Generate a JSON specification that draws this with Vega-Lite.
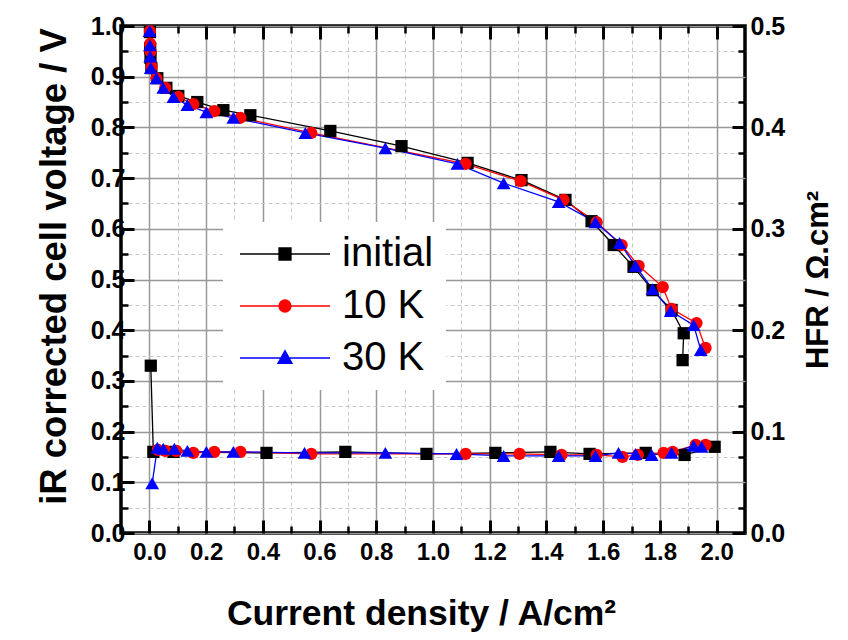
{
  "$schema": "https://vega.github.io/schema/vega-lite/v6.json",
  "width": 624,
  "height": 507,
  "autosize": {"type": "none"},
  "padding": {"left": 121, "top": 26, "right": 103, "bottom": 107},
  "background": "white",
  "config": {
    "view": {"stroke": "black", "strokeWidth": 3.5},
    "font": "Liberation Sans",
    "axis": {
      "labelFont": "Liberation Sans",
      "labelFontWeight": "bold",
      "labelColor": "black",
      "titleFont": "Liberation Sans",
      "titleFontWeight": "bold",
      "titleColor": "black",
      "tickColor": "black",
      "tickWidth": 2.5,
      "domain": false
    }
  },
  "datasets": {
    "volt": [
      {"s": "initial", "i": 1, "j": 0.002, "v": 0.988},
      {"s": "initial", "i": 2, "j": 0.003, "v": 0.956},
      {"s": "initial", "i": 3, "j": 0.004, "v": 0.937},
      {"s": "initial", "i": 4, "j": 0.007, "v": 0.917},
      {"s": "initial", "i": 5, "j": 0.028, "v": 0.897},
      {"s": "initial", "i": 6, "j": 0.060, "v": 0.878},
      {"s": "initial", "i": 7, "j": 0.102, "v": 0.862},
      {"s": "initial", "i": 8, "j": 0.169, "v": 0.850},
      {"s": "initial", "i": 9, "j": 0.261, "v": 0.834},
      {"s": "initial", "i": 10, "j": 0.356, "v": 0.824},
      {"s": "initial", "i": 11, "j": 0.638, "v": 0.793},
      {"s": "initial", "i": 12, "j": 0.889, "v": 0.763},
      {"s": "initial", "i": 13, "j": 1.122, "v": 0.730},
      {"s": "initial", "i": 14, "j": 1.312, "v": 0.696},
      {"s": "initial", "i": 15, "j": 1.467, "v": 0.657},
      {"s": "initial", "i": 16, "j": 1.559, "v": 0.615},
      {"s": "initial", "i": 17, "j": 1.637, "v": 0.568},
      {"s": "initial", "i": 18, "j": 1.707, "v": 0.525},
      {"s": "initial", "i": 19, "j": 1.774, "v": 0.479},
      {"s": "initial", "i": 20, "j": 1.841, "v": 0.440},
      {"s": "initial", "i": 21, "j": 1.884, "v": 0.394},
      {"s": "initial", "i": 22, "j": 1.880, "v": 0.341},
      {"s": "10 K", "i": 1, "j": 0.002, "v": 0.990},
      {"s": "10 K", "i": 2, "j": 0.003, "v": 0.965},
      {"s": "10 K", "i": 3, "j": 0.004, "v": 0.950},
      {"s": "10 K", "i": 4, "j": 0.008, "v": 0.920},
      {"s": "10 K", "i": 5, "j": 0.025, "v": 0.897},
      {"s": "10 K", "i": 6, "j": 0.056, "v": 0.878},
      {"s": "10 K", "i": 7, "j": 0.102, "v": 0.860},
      {"s": "10 K", "i": 8, "j": 0.155, "v": 0.846},
      {"s": "10 K", "i": 9, "j": 0.229, "v": 0.832},
      {"s": "10 K", "i": 10, "j": 0.321, "v": 0.819},
      {"s": "10 K", "i": 11, "j": 0.571, "v": 0.789},
      {"s": "10 K", "i": 12, "j": 1.115, "v": 0.728},
      {"s": "10 K", "i": 13, "j": 1.309, "v": 0.694},
      {"s": "10 K", "i": 14, "j": 1.460, "v": 0.657},
      {"s": "10 K", "i": 15, "j": 1.577, "v": 0.613},
      {"s": "10 K", "i": 16, "j": 1.665, "v": 0.568},
      {"s": "10 K", "i": 17, "j": 1.725, "v": 0.527},
      {"s": "10 K", "i": 18, "j": 1.810, "v": 0.485},
      {"s": "10 K", "i": 19, "j": 1.841, "v": 0.442},
      {"s": "10 K", "i": 20, "j": 1.929, "v": 0.414},
      {"s": "10 K", "i": 21, "j": 1.961, "v": 0.365},
      {"s": "30 K", "i": 1, "j": 0.001, "v": 0.990},
      {"s": "30 K", "i": 2, "j": 0.002, "v": 0.962},
      {"s": "30 K", "i": 3, "j": 0.003, "v": 0.940},
      {"s": "30 K", "i": 4, "j": 0.005, "v": 0.917},
      {"s": "30 K", "i": 5, "j": 0.025, "v": 0.897},
      {"s": "30 K", "i": 6, "j": 0.049, "v": 0.878},
      {"s": "30 K", "i": 7, "j": 0.085, "v": 0.860},
      {"s": "30 K", "i": 8, "j": 0.134, "v": 0.844},
      {"s": "30 K", "i": 9, "j": 0.201, "v": 0.830},
      {"s": "30 K", "i": 10, "j": 0.296, "v": 0.819},
      {"s": "30 K", "i": 11, "j": 0.550, "v": 0.789},
      {"s": "30 K", "i": 12, "j": 0.832, "v": 0.759},
      {"s": "30 K", "i": 13, "j": 1.086, "v": 0.728},
      {"s": "30 K", "i": 14, "j": 1.249, "v": 0.690},
      {"s": "30 K", "i": 15, "j": 1.443, "v": 0.653},
      {"s": "30 K", "i": 16, "j": 1.573, "v": 0.613},
      {"s": "30 K", "i": 17, "j": 1.658, "v": 0.572},
      {"s": "30 K", "i": 18, "j": 1.714, "v": 0.527},
      {"s": "30 K", "i": 19, "j": 1.774, "v": 0.481},
      {"s": "30 K", "i": 20, "j": 1.838, "v": 0.438},
      {"s": "30 K", "i": 21, "j": 1.919, "v": 0.410},
      {"s": "30 K", "i": 22, "j": 1.944, "v": 0.361}
    ],
    "hfr": [
      {"s": "initial", "i": 1, "j": 0.005, "h": 0.165},
      {"s": "initial", "i": 2, "j": 0.014, "h": 0.080},
      {"s": "initial", "i": 3, "j": 0.085, "h": 0.080},
      {"s": "initial", "i": 4, "j": 0.413, "h": 0.079},
      {"s": "initial", "i": 5, "j": 0.691, "h": 0.080},
      {"s": "initial", "i": 6, "j": 0.977, "h": 0.078},
      {"s": "initial", "i": 7, "j": 1.220, "h": 0.079},
      {"s": "initial", "i": 8, "j": 1.414, "h": 0.080},
      {"s": "initial", "i": 9, "j": 1.552, "h": 0.078},
      {"s": "initial", "i": 10, "j": 1.750, "h": 0.079},
      {"s": "initial", "i": 11, "j": 1.887, "h": 0.077},
      {"s": "initial", "i": 12, "j": 1.993, "h": 0.085},
      {"s": "10 K", "i": 1, "j": 0.030, "h": 0.082},
      {"s": "10 K", "i": 2, "j": 0.056, "h": 0.081},
      {"s": "10 K", "i": 3, "j": 0.095, "h": 0.081},
      {"s": "10 K", "i": 4, "j": 0.155, "h": 0.079},
      {"s": "10 K", "i": 5, "j": 0.229, "h": 0.080},
      {"s": "10 K", "i": 6, "j": 0.321, "h": 0.080},
      {"s": "10 K", "i": 7, "j": 0.571, "h": 0.078},
      {"s": "10 K", "i": 8, "j": 1.115, "h": 0.078},
      {"s": "10 K", "i": 9, "j": 1.305, "h": 0.078},
      {"s": "10 K", "i": 10, "j": 1.453, "h": 0.077},
      {"s": "10 K", "i": 11, "j": 1.577, "h": 0.077},
      {"s": "10 K", "i": 12, "j": 1.668, "h": 0.075},
      {"s": "10 K", "i": 13, "j": 1.722, "h": 0.077},
      {"s": "10 K", "i": 14, "j": 1.813, "h": 0.079},
      {"s": "10 K", "i": 15, "j": 1.845, "h": 0.080},
      {"s": "10 K", "i": 16, "j": 1.926, "h": 0.087},
      {"s": "10 K", "i": 17, "j": 1.961, "h": 0.087},
      {"s": "30 K", "i": 1, "j": 0.010, "h": 0.049},
      {"s": "30 K", "i": 2, "j": 0.028, "h": 0.084},
      {"s": "30 K", "i": 3, "j": 0.049, "h": 0.083},
      {"s": "30 K", "i": 4, "j": 0.088, "h": 0.083},
      {"s": "30 K", "i": 5, "j": 0.134, "h": 0.081},
      {"s": "30 K", "i": 6, "j": 0.201, "h": 0.080},
      {"s": "30 K", "i": 7, "j": 0.296, "h": 0.080},
      {"s": "30 K", "i": 8, "j": 0.547, "h": 0.079},
      {"s": "30 K", "i": 9, "j": 0.832, "h": 0.079},
      {"s": "30 K", "i": 10, "j": 1.083, "h": 0.078},
      {"s": "30 K", "i": 11, "j": 1.249, "h": 0.076},
      {"s": "30 K", "i": 12, "j": 1.443, "h": 0.076},
      {"s": "30 K", "i": 13, "j": 1.573, "h": 0.076},
      {"s": "30 K", "i": 14, "j": 1.654, "h": 0.079},
      {"s": "30 K", "i": 15, "j": 1.714, "h": 0.078},
      {"s": "30 K", "i": 16, "j": 1.771, "h": 0.077},
      {"s": "30 K", "i": 17, "j": 1.841, "h": 0.079},
      {"s": "30 K", "i": 18, "j": 1.919, "h": 0.086},
      {"s": "30 K", "i": 19, "j": 1.947, "h": 0.085}
    ]
  },
  "layer": [
    {
      "data": {"name": "volt"},
      "mark": {"type": "point", "opacity": 0},
      "encoding": {
        "x": {"field": "j", "type": "quantitative", "scale": {"domain": [-0.1, 2.1], "nice": false, "zero": false},
          "axis": {"orient": "bottom", "values": [0.1, 0.3, 0.5, 0.7, 0.9, 1.1, 1.3, 1.5, 1.7, 1.9], "labels": false, "title": null, "tickSize": -7, "grid": true, "gridColor": "#c8c8c8", "gridDash": [4, 3], "gridWidth": 1}},
        "y": {"field": "v", "type": "quantitative", "scale": {"domain": [0, 1], "nice": false, "zero": false},
          "axis": {"orient": "left", "values": [0.05, 0.15, 0.25, 0.35, 0.45, 0.55, 0.65, 0.75, 0.85, 0.95], "labels": false, "title": null, "tickSize": -7, "grid": true, "gridColor": "#c8c8c8", "gridDash": [4, 3], "gridWidth": 1}}
      }
    },
    {
      "data": {"name": "hfr"},
      "mark": {"type": "point", "opacity": 0},
      "encoding": {
        "x": {"field": "j", "type": "quantitative", "scale": {"domain": [-0.1, 2.1], "nice": false, "zero": false},
          "axis": {"orient": "top", "values": [0, 0.2, 0.4, 0.6, 0.8, 1.0, 1.2, 1.4, 1.6, 1.8, 2.0], "labels": false, "title": null, "tickSize": -13, "tickWidth": 3, "grid": false}},
        "y": {"field": "h", "type": "quantitative", "scale": {"domain": [0, 0.5], "nice": false, "zero": false},
          "axis": {"orient": "right", "values": [0.025, 0.075, 0.125, 0.175, 0.225, 0.275, 0.325, 0.375, 0.425, 0.475], "labels": false, "title": null, "tickSize": -7, "grid": false}}
      }
    },
    {
      "data": {"name": "volt"},
      "mark": {"type": "point", "opacity": 0},
      "encoding": {
        "x": {"field": "j", "type": "quantitative", "scale": {"domain": [-0.1, 2.1], "nice": false, "zero": false},
          "axis": {"orient": "top", "values": [0.1, 0.3, 0.5, 0.7, 0.9, 1.1, 1.3, 1.5, 1.7, 1.9], "labels": false, "title": null, "tickSize": -7, "grid": false}},
        "y": {"field": "v", "type": "quantitative", "scale": {"domain": [0, 1], "nice": false, "zero": false}, "axis": null}
      }
    },
    {
      "data": {"name": "volt"},
      "mark": {"type": "line", "strokeWidth": 1.3},
      "encoding": {
        "x": {"field": "j", "type": "quantitative", "scale": {"domain": [-0.1, 2.1], "nice": false, "zero": false},
          "axis": {"orient": "bottom", "values": [0, 0.2, 0.4, 0.6, 0.8, 1.0, 1.2, 1.4, 1.6, 1.8, 2.0], "format": ".1f", "labelFontSize": 24, "labelPadding": 20, "title": "Current density / A/cm²", "titleFontSize": 35.5, "titlePadding": 32, "titleX": 300, "tickSize": -13, "tickWidth": 3, "grid": true, "gridColor": "#999999", "gridWidth": 1.5}},
        "y": {"field": "v", "type": "quantitative", "scale": {"domain": [0, 1], "nice": false, "zero": false},
          "axis": {"orient": "left", "values": [0, 0.1, 0.2, 0.3, 0.4, 0.5, 0.6, 0.7, 0.8, 0.9, 1.0], "format": ".1f", "labelFontSize": 25, "labelPadding": 9, "encode": {"labels": {"update": {"dx": {"value": -5}}}}, "title": "iR corrected cell voltage / V", "titleFontSize": 36.5, "titlePadding": 17, "titleY": 240, "tickSize": -13, "tickWidth": 3, "grid": true, "gridColor": "#999999", "gridWidth": 1.5}},
        "color": {"field": "s", "type": "nominal", "scale": {"domain": ["initial", "10 K", "30 K"], "range": ["#000000", "#ff0000", "#0000ff"]},
          "legend": {
            "orient": "none", "legendX": 102, "legendY": 196, "title": null,
            "fillColor": "white", "padding": 12, "rowPadding": 12,
            "labelFont": "Liberation Sans", "labelFontSize": 40, "labelFontWeight": "normal", "labelColor": "black",
            "labelOffset": 67, "symbolSize": 900, "symbolStrokeWidth": 1.3,
            "encode": {
              "symbols": {
                "update": {
                  "shape": {"signal": "datum.value === 'initial' ? 'M-1,0H5M1.6,-0.4H2.4V0.4H1.6Z' : datum.value === '10 K' ? 'M-1,0H5M2.4,0A0.4,0.4 0 1,1 1.6,0A0.4,0.4 0 1,1 2.4,0Z' : 'M-1,0H5M2,-0.5L2.47,0.35L1.53,0.35Z'"},
                  "fill": {"scale": "color", "field": "value"},
                  "stroke": {"scale": "color", "field": "value"}
                }
              }
            }
          }},
        "order": {"field": "i", "type": "quantitative"}
      }
    },
    {
      "data": {"name": "hfr"},
      "mark": {"type": "line", "strokeWidth": 1.3},
      "encoding": {
        "x": {"field": "j", "type": "quantitative", "scale": {"domain": [-0.1, 2.1], "nice": false, "zero": false}, "axis": null},
        "y": {"field": "h", "type": "quantitative", "scale": {"domain": [0, 0.5], "nice": false, "zero": false},
          "axis": {"orient": "right", "values": [0, 0.1, 0.2, 0.3, 0.4, 0.5], "format": ".1f", "labelFontSize": 25, "labelPadding": 18, "title": "HFR / Ω.cm²", "titleFontSize": 31, "titleAngle": -90, "titleBaseline": "top", "titlePadding": 19, "tickSize": -13, "tickWidth": 3, "grid": false}},
        "color": {"field": "s", "type": "nominal", "legend": null},
        "order": {"field": "i", "type": "quantitative"}
      }
    },
    {
      "data": {"name": "volt"},
      "transform": [{"filter": "datum.s === 'initial'"}],
      "mark": {"type": "point", "shape": "square", "filled": true, "size": 150, "opacity": 1},
      "encoding": {
        "x": {"field": "j", "type": "quantitative", "scale": {"domain": [-0.1, 2.1], "nice": false, "zero": false}, "axis": null},
        "y": {"field": "v", "type": "quantitative", "scale": {"domain": [0, 1], "nice": false, "zero": false}, "axis": null},
        "color": {"field": "s", "type": "nominal", "legend": null}
      }
    },
    {
      "data": {"name": "volt"},
      "transform": [{"filter": "datum.s === '10 K'"}],
      "mark": {"type": "point", "shape": "circle", "filled": true, "size": 150, "opacity": 1},
      "encoding": {
        "x": {"field": "j", "type": "quantitative", "scale": {"domain": [-0.1, 2.1], "nice": false, "zero": false}, "axis": null},
        "y": {"field": "v", "type": "quantitative", "scale": {"domain": [0, 1], "nice": false, "zero": false}, "axis": null},
        "color": {"field": "s", "type": "nominal", "legend": null}
      }
    },
    {
      "data": {"name": "volt"},
      "transform": [{"filter": "datum.s === '30 K'"}],
      "mark": {"type": "point", "shape": "triangle-up", "filled": true, "size": 190, "opacity": 1},
      "encoding": {
        "x": {"field": "j", "type": "quantitative", "scale": {"domain": [-0.1, 2.1], "nice": false, "zero": false}, "axis": null},
        "y": {"field": "v", "type": "quantitative", "scale": {"domain": [0, 1], "nice": false, "zero": false}, "axis": null},
        "color": {"field": "s", "type": "nominal", "legend": null}
      }
    },
    {
      "data": {"name": "hfr"},
      "transform": [{"filter": "datum.s === 'initial'"}],
      "mark": {"type": "point", "shape": "square", "filled": true, "size": 150, "opacity": 1},
      "encoding": {
        "x": {"field": "j", "type": "quantitative", "scale": {"domain": [-0.1, 2.1], "nice": false, "zero": false}, "axis": null},
        "y": {"field": "h", "type": "quantitative", "scale": {"domain": [0, 0.5], "nice": false, "zero": false}, "axis": null},
        "color": {"field": "s", "type": "nominal", "legend": null}
      }
    },
    {
      "data": {"name": "hfr"},
      "transform": [{"filter": "datum.s === '10 K'"}],
      "mark": {"type": "point", "shape": "circle", "filled": true, "size": 150, "opacity": 1},
      "encoding": {
        "x": {"field": "j", "type": "quantitative", "scale": {"domain": [-0.1, 2.1], "nice": false, "zero": false}, "axis": null},
        "y": {"field": "h", "type": "quantitative", "scale": {"domain": [0, 0.5], "nice": false, "zero": false}, "axis": null},
        "color": {"field": "s", "type": "nominal", "legend": null}
      }
    },
    {
      "data": {"name": "hfr"},
      "transform": [{"filter": "datum.s === '30 K'"}],
      "mark": {"type": "point", "shape": "triangle-up", "filled": true, "size": 190, "opacity": 1},
      "encoding": {
        "x": {"field": "j", "type": "quantitative", "scale": {"domain": [-0.1, 2.1], "nice": false, "zero": false}, "axis": null},
        "y": {"field": "h", "type": "quantitative", "scale": {"domain": [0, 0.5], "nice": false, "zero": false}, "axis": null},
        "color": {"field": "s", "type": "nominal", "legend": null}
      }
    }
  ],
  "resolve": {"scale": {"y": "independent"}, "axis": {"x": "independent", "y": "independent"}}
}
